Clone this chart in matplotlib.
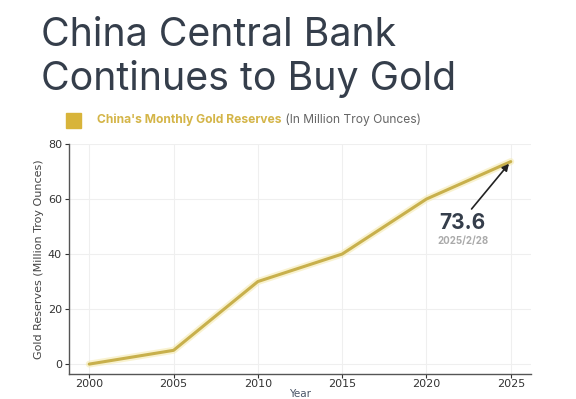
import matplotlib
matplotlib.use("Agg")
import matplotlib.pyplot as plt
import matplotlib.patheffects as pe
from matplotlib.patches import Rectangle

years = [2000, 2005, 2010, 2015, 2020, 2025]
reserves = [0, 5, 30, 40, 60, 73.6]
yticks = [0, 20, 40, 60, 80]
title = "China Central Bank\nContinues to Buy Gold"
legend_bold = "China's Monthly Gold Reserves"
legend_rest = " (In Million Troy Ounces)"
last_label = "73.6"
last_date = "2025/2/28"

gold = "#c8b04c"
dark = "#353e4b"

fig = plt.figure(figsize=(5.76, 3.99), dpi=100)
fig.patch.set_facecolor("white")

fig.text(41/576, 1 - 17/399, title, fontsize=28.3, color=dark, family="Inter",
         va="top", ha="left", linespacing=1.2)

fig.patches.append(Rectangle((66/576, 1 - 128/399), 15/576, 15/399,
                             transform=fig.transFigure, color="#d8b43a"))
t1 = fig.text(97/576, 1 - 120/399, legend_bold, fontsize=8.7, color="#d4b548",
              weight="bold", family="Inter", va="center", ha="left")
fig.canvas.draw()
bb = t1.get_window_extent()
fig.text(bb.x1 / fig.bbox.width, 1 - 120/399, legend_rest, fontsize=8.7,
         color="#666666", family="Inter", va="center", ha="left")

ax = fig.add_axes([69/576, 1 - 374/399, (531-69)/576, (374-144)/399])
ax.plot(years, reserves, color=gold, lw=2.2, solid_capstyle="round",
        path_effects=[pe.Stroke(linewidth=5, foreground="#f5eab0", alpha=0.6), pe.Normal()])
ax.set_xlim(1998.8, 2026.2)
ax.set_ylim(-3.6, 80)
ax.set_yticks(yticks)
ax.set_xticks(years)
ax.grid(True, color="#efefef", lw=0.8)
ax.set_axisbelow(True)
for s in ["top", "right"]:
    ax.spines[s].set_visible(False)
for s in ["left", "bottom"]:
    ax.spines[s].set_color("#555555")
    ax.spines[s].set_linewidth(1.0)
ax.tick_params(colors="#333333", labelsize=8, length=3, width=0.8, pad=2)
ax.tick_params(axis="x", pad=0.5)
ax.set_ylabel("Gold Reserves (Million Troy Ounces)", fontsize=8, color="#444444", labelpad=3)
ax.set_xlabel("Year", fontsize=7.5, color="#4a5568", labelpad=0)

ax.annotate("", xy=(years[-1], reserves[-1]), xytext=(2022.57, 55.6),
            arrowprops=dict(arrowstyle="-|>", color="#222222", lw=1.2, mutation_scale=10))
ax.text(2022.15, 51.3, last_label, fontsize=15, weight="bold", color=dark,
        family="Inter", ha="center", va="center")
ax.text(2022.15, 44.7, last_date, fontsize=7, weight="bold", color="#aaaaaa",
        family="Inter", ha="center", va="center")

fig.savefig("out.png", dpi=100, facecolor="white")
